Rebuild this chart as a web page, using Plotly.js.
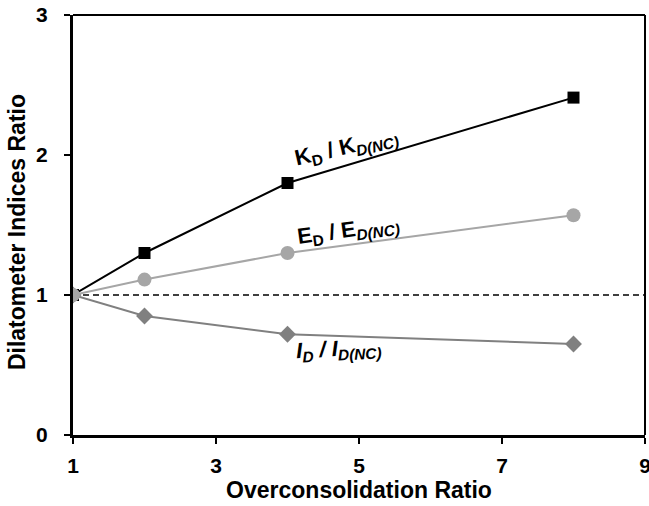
<!DOCTYPE html>
<html>
<head>
<meta charset="utf-8">
<script src="https://cdn.plot.ly/plotly-3.0.1.min.js"></script>
<style>html,body{margin:0;padding:0;background:#fff;overflow:hidden;}#chart{width:649px;height:506px;}</style>
</head>
<body>
<div id="chart"></div>
<script>
const ocr = [1, 2, 4, 8];
const kdRatio = [1, 1.30, 1.80, 2.41];
const edRatio = [1, 1.11, 1.30, 1.57];
const idRatio = [1, 0.85, 0.72, 0.65];
const xTicks = [1, 3, 5, 7, 9];
const yTicks = [0, 1, 2, 3];
const refLineX = [1, 9];
const refLineY = [1, 1];

const FONT = 'Liberation Sans, Arial, sans-serif';

const traces = [
  {x: refLineX, y: refLineY, mode: 'lines', line: {color: '#000', width: 1.5, dash: '6px,4px'}, hoverinfo: 'skip'},
  {x: ocr, y: kdRatio, mode: 'lines+markers', line: {color: '#000', width: 2},
   marker: {symbol: 'square', size: 12, color: '#000'}},
  {x: ocr, y: idRatio, mode: 'lines+markers', line: {color: '#808080', width: 2},
   marker: {symbol: 'diamond', size: 13, color: '#808080'}},
  {x: ocr, y: edRatio, mode: 'lines+markers', line: {color: '#a6a6a6', width: 2},
   marker: {symbol: 'circle', size: 14, color: '#a6a6a6'}}
];

const layout = {
  width: 649, height: 506,
  margin: {l: 73, r: 4, t: 15, b: 71},
  showlegend: false,
  paper_bgcolor: '#fff', plot_bgcolor: '#fff',
  font: {family: FONT, color: '#000'},
  xaxis: {
    range: [1, 9], tickvals: xTicks, ticktext: xTicks.map(String),
    showgrid: false, zeroline: false, showline: true, linecolor: '#000', linewidth: 3,
    ticks: 'outside', ticklen: 6, tickwidth: 2, tickcolor: '#000',
    ticklabelstandoff: 4, ticklabeloverflow: 'allow',
    tickfont: {family: FONT, size: 21, color: '#000', weight: 'bold'},
    title: {text: '<b>Overconsolidation Ratio</b>', font: {family: FONT, size: 23, color: '#000'}, standoff: 2}
  },
  yaxis: {
    range: [0, 3], tickvals: yTicks, ticktext: yTicks.map(String),
    showgrid: false, zeroline: false, showline: true, linecolor: '#000', linewidth: 3,
    ticks: 'outside', ticklen: 6, tickwidth: 2, tickcolor: '#000',
    ticklabelstandoff: 12,
    tickfont: {family: FONT, size: 21, color: '#000', weight: 'bold'}
  },
  shapes: [
    {type: 'line', xref: 'paper', yref: 'paper', x0: 0, x1: 1, y0: 1, y1: 1, line: {color: '#000', width: 2}},
    {type: 'line', xref: 'paper', yref: 'paper', x0: 1, x1: 1, y0: 0, y1: 1, line: {color: '#000', width: 2}}
  ],
  annotations: [
    {x: -0.098, y: 0.483, xref: 'paper', yref: 'paper', showarrow: false, textangle: -90,
     xanchor: 'center', yanchor: 'middle',
     text: '<b>Dilatometer Indices Ratio</b>', font: {family: FONT, size: 23, color: '#000'}},
    {x: 4.82, y: 2.05, xref: 'x', yref: 'y', showarrow: false, textangle: -13,
     text: '<b>K<sub>D</sub> / K<sub><i>D(NC)</i></sub></b>', font: {family: FONT, size: 22, color: '#000'}},
    {x: 4.85, y: 1.46, xref: 'x', yref: 'y', showarrow: false, textangle: -8,
     text: '<b>E<sub>D</sub> / E<sub><i>D(NC)</i></sub></b>', font: {family: FONT, size: 22, color: '#000'}},
    {x: 4.71, y: 0.61, xref: 'x', yref: 'y', showarrow: false, textangle: -3,
     text: '<b><i>I<sub>D</sub> / I<sub>D(NC)</sub></i></b>', font: {family: FONT, size: 22, color: '#000'}}
  ]
};

Plotly.newPlot('chart', traces, layout, {displayModeBar: false, staticPlot: true});
</script>
</body>
</html>
